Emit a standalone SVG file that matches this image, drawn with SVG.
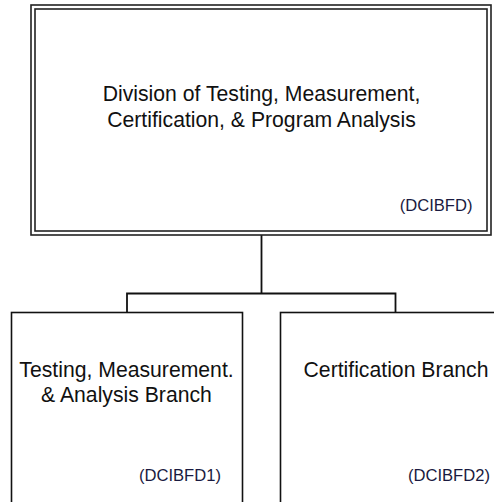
<svg xmlns="http://www.w3.org/2000/svg" width="494" height="502" viewBox="0 0 494 502">
<style>
.box{fill:#fff;stroke:#111;stroke-width:1.6}
.dbl{fill:none;stroke:#222;stroke-width:1.6}
.conn{fill:none;stroke:#111;stroke-width:1.8}
.t{font-family:"Liberation Sans",Arial,sans-serif;font-size:21.2px;fill:#111;text-anchor:middle}
.c{font-family:"Liberation Sans",Arial,sans-serif;font-size:16.6px;fill:#1a1a40;text-anchor:end}
</style>
<rect width="494" height="502" fill="#fff"/>
<g id="connectors">
<path class="conn" d="M261.5 235V293.5M127 312.5V293.5H395.5V312.5"/>
</g>
<g id="division">
<rect class="dbl" x="31" y="5" width="460" height="230" style="fill:#fff"/>
<rect class="dbl" x="35" y="9" width="452" height="222"/>
<text class="t" x="261.5" y="100.5">Division of Testing, Measurement,</text>
<text class="t" x="261.5" y="126.5">Certification, &amp; Program Analysis</text>
<text class="c" x="472.5" y="211">(DCIBFD)</text>
</g>
<g id="branch1">
<rect class="box" x="11.5" y="312.5" width="231" height="210"/>
<text class="t" x="126.5" y="376.7">Testing, Measurement.</text>
<text class="t" x="126.5" y="402.3">&amp; Analysis Branch</text>
<text class="c" x="221" y="481">(DCIBFD1)</text>
</g>
<g id="branch2">
<rect class="box" x="280.5" y="312.5" width="231" height="210"/>
<text class="t" x="396" y="376.7">Certification Branch</text>
<text class="c" x="490" y="481">(DCIBFD2)</text>
</g>
</svg>
